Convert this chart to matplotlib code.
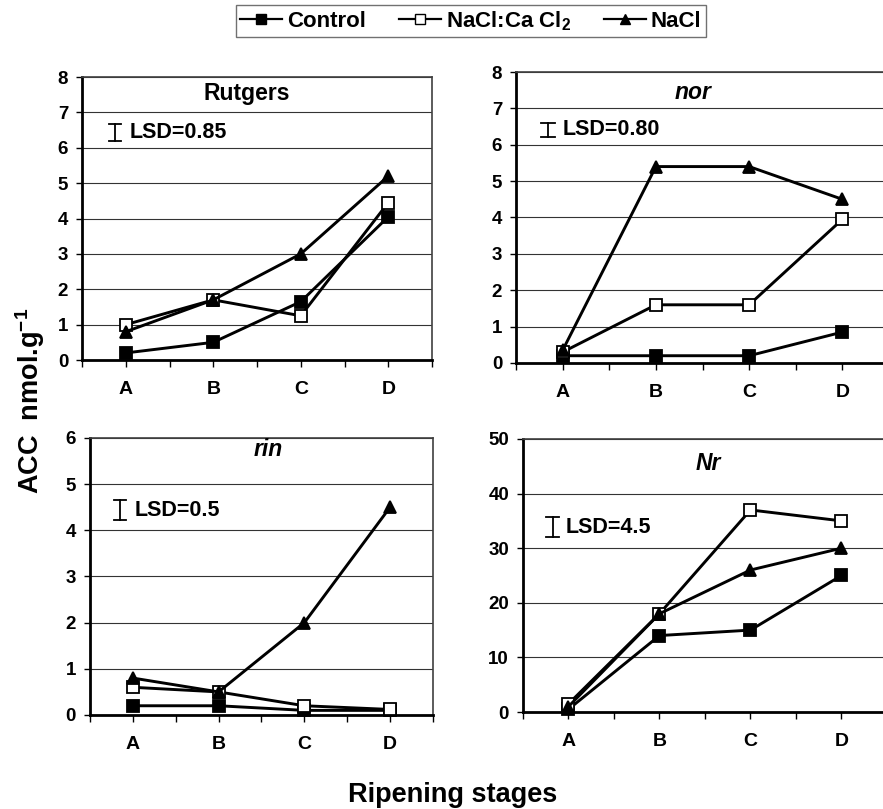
import matplotlib
matplotlib.use("Agg")
import matplotlib.pyplot as plt
from matplotlib.lines import Line2D

plt.rcParams['font.family'] = ['Liberation Sans', 'DejaVu Sans']
plt.rcParams['font.weight'] = 'bold'
plt.rcParams['mathtext.fontset'] = 'custom'
plt.rcParams['mathtext.bf'] = 'Liberation Sans:bold'
plt.rcParams['mathtext.rm'] = 'Liberation Sans:bold'
plt.rcParams['mathtext.default'] = 'bf'

stages = ['A', 'B', 'C', 'D']
series_names = ['Control', 'NaCl:Ca Cl$_2$', 'NaCl']

rutgers_control = [0.2, 0.5, 1.65, 4.05]
rutgers_nacl_cacl2 = [1.0, 1.7, 1.25, 4.45]
rutgers_nacl = [0.8, 1.7, 3.0, 5.2]

nor_control = [0.2, 0.2, 0.2, 0.85]
nor_nacl_cacl2 = [0.3, 1.6, 1.6, 3.95]
nor_nacl = [0.35, 5.4, 5.4, 4.5]

rin_control = [0.2, 0.2, 0.1, 0.1]
rin_nacl_cacl2 = [0.6, 0.5, 0.2, 0.12]
rin_nacl = [0.8, 0.5, 2.0, 4.5]

nr_control = [0.5, 14, 15, 25]
nr_nacl_cacl2 = [1.5, 18, 37, 35]
nr_nacl = [1.0, 18, 26, 30]

panel_titles = ['Rutgers', 'nor', 'rin', 'Nr']
lsd_labels = ['LSD=0.85', 'LSD=0.80', 'LSD=0.5', 'LSD=4.5']
y_max = [8, 8, 6, 50]
y_step = [1, 1, 1, 10]

panels = [
    (rutgers_control, rutgers_nacl_cacl2, rutgers_nacl),
    (nor_control, nor_nacl_cacl2, nor_nacl),
    (rin_control, rin_nacl_cacl2, rin_nacl),
    (nr_control, nr_nacl_cacl2, nr_nacl),
]

fig = plt.figure(figsize=(8.83, 8.09), dpi=100)

rects = [
    [0.0929, 0.555, 0.3964, 0.3498],
    [0.5844, 0.5513, 0.4224, 0.3597],
    [0.1019, 0.1162, 0.3884, 0.3424],
    [0.5923, 0.1199, 0.4122, 0.3375],
]
title_pos = [(0.47, 0.943), (0.475, 0.93), (0.52, 0.957), (0.51, 0.91)]
title_italic = [False, True, True, True]
lsd_bar = [(0.094, 0.774, 0.834), (0.086, 0.777, 0.825), (0.087, 0.704, 0.776), (0.082, 0.641, 0.714)]
lsd_text_x = [0.135, 0.125, 0.13, 0.118]

styles = [
    dict(marker='s', mfc='black', mec='black'),
    dict(marker='s', mfc='white', mec='black'),
    dict(marker='^', mfc='black', mec='black'),
]

x = list(range(len(stages)))
for i, (rect, data) in enumerate(zip(rects, panels)):
    ax = fig.add_axes(rect)
    for j, ys in enumerate(data):
        ax.plot(x, ys, color='black', lw=2.1, ms=8.5, mew=1.3, zorder=3 + j, **styles[j],
                clip_on=False)
    ax.set_xlim(-0.5, 3.5)
    ax.set_ylim(0, y_max[i])
    ax.set_yticks(list(range(0, y_max[i] + 1, y_step[i])))
    ax.set_xticks(x)
    ax.set_xticklabels(stages)
    ax.set_xticks([-0.5, 0.5, 1.5, 2.5, 3.5], minor=True)
    ax.yaxis.grid(True, color='0.2', lw=0.8)
    ax.set_axisbelow(True)
    ax.tick_params(axis='x', which='both', direction='out', length=5, width=1, pad=10, labelsize=14)
    ax.tick_params(axis='y', direction='out', length=4, width=1, pad=6, labelsize=13.5)
    for lab in ax.get_xticklabels() + ax.get_yticklabels():
        lab.set_fontweight('bold')
    for s in ['left', 'bottom']:
        ax.spines[s].set_linewidth(2)
    for s in ['top', 'right']:
        ax.spines[s].set_linewidth(1.2)
        ax.spines[s].set_color('0.25')
    tx, ty = title_pos[i]
    ax.text(tx, ty, panel_titles[i], transform=ax.transAxes, ha='center', va='center',
            fontsize=16.5, fontweight='bold', style='italic' if title_italic[i] else 'normal')
    bx, b0, b1 = lsd_bar[i]
    ax.plot([bx, bx], [b0, b1], color='black', lw=1.3, transform=ax.transAxes)
    ax.plot([bx - 0.018, bx + 0.018], [b0, b0], color='black', lw=1.3, transform=ax.transAxes)
    ax.plot([bx - 0.018, bx + 0.018], [b1, b1], color='black', lw=1.3, transform=ax.transAxes)
    ax.text(lsd_text_x[i], (b0 + b1) / 2, lsd_labels[i], transform=ax.transAxes,
            ha='left', va='center', fontsize=15.5, fontweight='bold')

handles = [Line2D([0], [0], color='black', lw=1.6, ms=6.5, mew=1.0, **styles[j]) for j in range(3)]
leg = fig.legend(handles, series_names, loc='center', bbox_to_anchor=(0.533, 0.974), ncol=3,
                 frameon=True, fancybox=False, edgecolor='0.3', fontsize=16,
                 handlelength=1.9, handletextpad=0.2, columnspacing=1.5, borderpad=0.2)
leg.get_frame().set_linewidth(1.0)
for t in leg.get_texts():
    t.set_fontweight('bold')

fig.text(0.034, 0.505, 'ACC  nmol.g$^{-1}$', rotation=90, ha='center', va='center',
         fontsize=19.5, fontweight='bold')
fig.text(0.513, 0.017, 'Ripening stages', ha='center', va='center', fontsize=19.5, fontweight='bold')

fig.savefig('out.png', dpi=100)
